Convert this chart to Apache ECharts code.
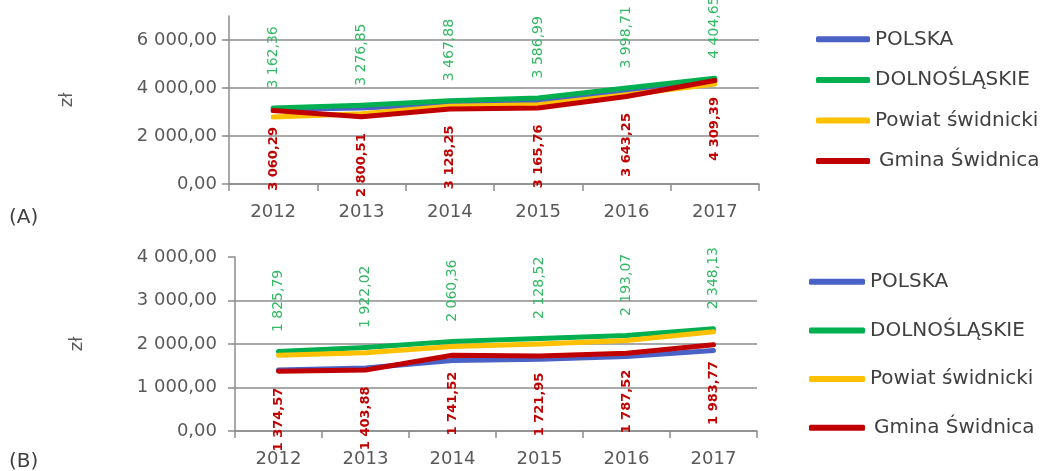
<!DOCTYPE html>
<html>
<head>
<meta charset="utf-8">
<script src="https://cdn.jsdelivr.net/npm/echarts@6/dist/echarts.min.js"></script>
<style>
  html, body { margin: 0; padding: 0; background: #fff; }
  #chart { width: 1048px; height: 471px; }
</style>
</head>
<body>
<div id="chart"></div>
<script>
// dane
const years = ['2012', '2013', '2014', '2015', '2016', '2017'];
const seriesNames = ['POLSKA', 'DOLNOŚLĄSKIE', 'Powiat świdnicki', 'Gmina Świdnica'];
const colors = ['#4a62c5', '#00b050', '#ffc000', '#c00000'];

// (A)
const polskaA = [3100, 3170, 3330, 3420, 3850, 4350];
const dolnoA = [3162.36, 3276.85, 3467.88, 3586.99, 3998.71, 4404.65];
const powiatA = [2790, 2930, 3240, 3300, 3720, 4170];
const gminaA = [3060.29, 2800.51, 3128.25, 3165.76, 3643.25, 4309.39];
// (B)
const polskaB = [1400, 1450, 1620, 1650, 1710, 1850];
const dolnoB = [1825.79, 1922.02, 2060.36, 2128.52, 2193.07, 2348.13];
const powiatB = [1740, 1800, 1940, 2000, 2080, 2280];
const gminaB = [1374.57, 1403.88, 1741.52, 1721.95, 1787.52, 1983.77];

const ticksA = [0, 2000, 4000, 6000];
const ticksB = [0, 1000, 2000, 3000, 4000];

const font = 'DejaVu Sans';
const gridColor = '#8c8c8c';

// 6 000,00
function fmt(v) {
  const parts = v.toFixed(2).split('.');
  return parts[0].replace(/\B(?=(\d{3})+(?!\d))/g, ' ') + ',' + parts[1];
}

const chart = echarts.init(document.getElementById('chart'));

function xAxisFor(gridIndex) {
  return {
    type: 'category',
    gridIndex: gridIndex,
    data: years,
    boundaryGap: true,
    axisLine: { lineStyle: { color: gridColor, width: 1.5 } },
    axisTick: { show: true, length: 7, lineStyle: { color: gridColor, width: 1.5 } },
    axisLabel: { color: '#595959', fontFamily: font, fontSize: 18, margin: 19 }
  };
}

function yAxisFor(gridIndex, max, interval, ticks, labelMargin, nameGap) {
  return {
    type: 'value',
    gridIndex: gridIndex,
    min: 0,
    max: max,
    interval: interval,
    name: 'zł',
    nameLocation: 'middle',
    nameRotate: 90,
    nameGap: nameGap,
    nameTextStyle: { color: '#595959', fontFamily: font, fontSize: 18 },
    axisLine: { show: true, lineStyle: { color: gridColor, width: 1.5 } },
    axisTick: { show: true, length: 7, customValues: ticks, lineStyle: { color: gridColor, width: 1.5 } },
    axisLabel: {
      color: '#595959', fontFamily: font, fontSize: 18, margin: labelMargin,
      customValues: ticks, formatter: fmt
    },
    splitLine: { show: true, showMaxLine: max !== ticks[ticks.length - 1], lineStyle: { color: gridColor, width: 1.5 } }
  };
}

function lineSeries(name, data, idx, gridIndex, withLabel) {
  const s = {
    name: name,
    type: 'line',
    xAxisIndex: gridIndex,
    yAxisIndex: gridIndex,
    data: data,
    symbol: 'circle',
    symbolSize: 1,
    showSymbol: true,
    itemStyle: { color: colors[idx] },
    lineStyle: { width: 5, color: colors[idx], cap: 'round', join: 'round' },
    emphasis: { disabled: true },
    z: 2 + idx
  };
  if (withLabel === 'top') {
    s.label = {
      show: true, position: 'top', distance: 19, rotate: 90,
      align: 'left', verticalAlign: 'middle',
      color: '#33b864', fontFamily: font, fontSize: 14,
      formatter: p => fmt(p.value)
    };
  } else if (withLabel === 'bottom') {
    s.label = {
      show: true, position: 'bottom', distance: 16, rotate: 90,
      align: 'right', verticalAlign: 'middle',
      color: '#c00000', fontFamily: font, fontSize: 13, fontWeight: 'bold',
      formatter: p => fmt(p.value)
    };
  }
  return s;
}

function legendFor(left, top, gap, iconWidth) {
  return {
    orient: 'vertical',
    left: left,
    top: top,
    padding: 0,
    itemGap: gap,
    itemWidth: iconWidth,
    itemHeight: 6,
    icon: 'roundRect',
    selectedMode: false,
    data: seriesNames,
    formatter: n => (n === 'Gmina Świdnica' ? '\u2009' + n : n),
    textStyle: { color: '#404040', fontFamily: font, fontSize: 20, lineHeight: 20 }
  };
}

chart.setOption({
  animation: false,
  color: colors,
  grid: [
    { left: 229, right: 289, top: 16, height: 168 },
    { left: 235, right: 291, top: 257, height: 174 }
  ],
  xAxis: [xAxisFor(0), xAxisFor(1)],
  yAxis: [
    yAxisFor(0, 7000, 2000, ticksA, 12, 153),
    yAxisFor(1, 4000, 1000, ticksB, 18, 149)
  ],
  legend: [
    legendFor(816, 29.3, 20.6, 54),
    legendFor(809, 271.7, 28.7, 56)
  ],
  series: [
    lineSeries(seriesNames[0], polskaA, 0, 0, null),
    lineSeries(seriesNames[1], dolnoA, 1, 0, 'top'),
    lineSeries(seriesNames[2], powiatA, 2, 0, null),
    lineSeries(seriesNames[3], gminaA, 3, 0, 'bottom'),
    lineSeries(seriesNames[0], polskaB, 0, 1, null),
    lineSeries(seriesNames[1], dolnoB, 1, 1, 'top'),
    lineSeries(seriesNames[2], powiatB, 2, 1, null),
    lineSeries(seriesNames[3], gminaB, 3, 1, 'bottom')
  ],
  graphic: [
    { type: 'text', left: 9, top: 208, style: { text: '(A)', fill: '#404040', font: '20px "DejaVu Sans"' } },
    { type: 'text', left: 9, top: 452, style: { text: '(B)', fill: '#404040', font: '20px "DejaVu Sans"' } }
  ]
});
</script>
</body>
</html>
